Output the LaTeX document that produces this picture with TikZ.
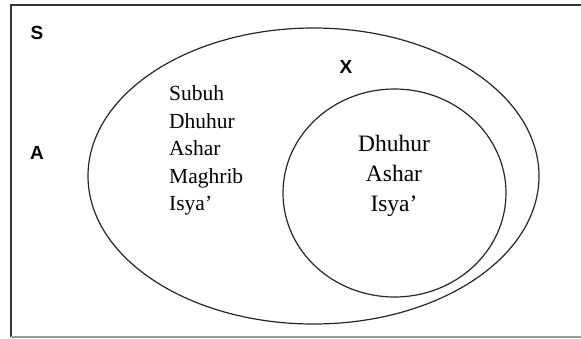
\documentclass[tikz,border=0pt]{standalone}
\usepackage{fontspec}
\usetikzlibrary{shapes.geometric}
\setmainfont{Liberation Serif}
\newfontfamily\labelfont{Liberation Sans}
\begin{document}
\begin{tikzpicture}[x=1pt,y=-1pt,
  setname/.style={font=\labelfont\bfseries\fontsize{19}{19}\selectfont, inner sep=0pt, anchor=center},
  member/.style={font=\fontsize{21.5}{21.5}\selectfont, inner sep=0pt},
  innermember/.style={font=\fontsize{23.5}{23.5}\selectfont, inner sep=0pt},
  setline/.style={line width=1.2pt, draw=black!85}]
\useasboundingbox (0,0) rectangle (581,338);
% frame
\draw[line width=1.5pt, draw=black!80] (11,337) -- (11,5) -- (581,5);
\draw[line width=1.5pt, draw=black!40] (11,337) -- (581,337);
% sets
\node[setline, draw, ellipse, minimum width=451pt, minimum height=296pt, inner sep=0pt] (A) at (313.5,176) {};
\node[setline, draw, ellipse, minimum width=223pt, minimum height=208pt, inner sep=0pt] (X) at (394.5,193) {};
% set names
\node[setname] (labS) at (37,33) {S};
\node[setname] (labA) at (37,153) {A};
\node[setname] (labX) at (346,67) {X};
% members of A
\node[member, anchor=base west] (a1) at (169,100) {Subuh};
\node[member, anchor=base west] (a2) at (169,128) {Dhuhur};
\node[member, anchor=base west] (a3) at (169,155.5) {Ashar};
\node[member, anchor=base west] (a4) at (169,183) {Maghrib};
\node[member, anchor=base west] (a5) at (169,210.5) {Isya’};
% members of X
\node[innermember, anchor=base] (x1) at (394,151) {Dhuhur};
\node[innermember, anchor=base] (x2) at (394,181.5) {Ashar};
\node[innermember, anchor=base] (x3) at (394,211) {Isya’};
\end{tikzpicture}
\end{document}
